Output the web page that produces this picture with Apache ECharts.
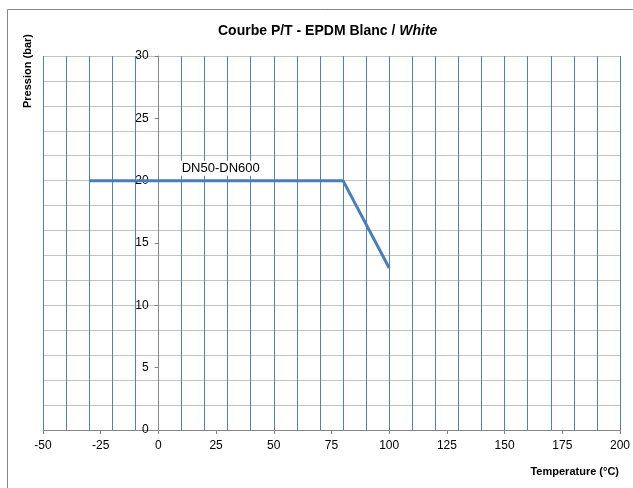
<!DOCTYPE html>
<html>
<head>
<meta charset="utf-8">
<script src="https://cdn.jsdelivr.net/npm/echarts@6/dist/echarts.min.js"></script>
<style>
html, body { margin: 0; padding: 0; background: #fff; }
#chart { width: 633px; height: 488px; }
</style>
</head>
<body>
<div id="chart"></div>
<script>
// courbe pression / temperature
const temperature = [-30, 80, 100];
const pression = [20, 20, 13];
const seriesName = 'DN50-DN600';
const labelAt = [27, 21]; // position du libellé (°C, bar)

const xMin = -50, xMax = 200;
const yMin = 0, yMax = 30;

const font = 'Liberation Sans';
const gridLeft = 43, gridRight = 12;
const plotWidth = 633 - gridLeft - gridRight;
// l'axe des pressions passe par 0 °C
const yAxisShift = -(0 - xMin) / (xMax - xMin) * plotWidth;

var myChart = echarts.init(document.getElementById('chart'));

const option = {
    backgroundColor: '#fff',
    animation: false,
    title: {
        text: '{b|Courbe P/T - EPDM Blanc / }{i|White}',
        left: 213,
        top: 19,
        textStyle: {
            rich: {
                b: { fontFamily: font, fontSize: 14, fontWeight: 'bold', color: '#000' },
                i: { fontFamily: font, fontSize: 14, fontWeight: 'bold', fontStyle: 'italic', color: '#000' }
            }
        }
    },
    grid: {
        left: gridLeft,
        right: gridRight,
        top: 56,
        bottom: 58,
        containLabel: false
    },
    xAxis: [{
        type: 'value',
        min: xMin,
        max: xMax,
        interval: 25,
        z: 3,
        axisLine: { onZero: true, lineStyle: { color: '#868686', width: 1 } },
        axisTick: { show: true, length: 4, lineStyle: { color: '#868686' } },
        axisLabel: { fontFamily: font, fontSize: 12, color: '#000', margin: 10 },
        splitLine: { show: false }
    }, {
        // grille verticale tous les 10
        type: 'value',
        min: xMin,
        max: xMax,
        interval: 10,
        position: 'bottom',
        axisLine: { show: false },
        axisTick: { show: false },
        axisLabel: { show: false },
        splitLine: { show: true, lineStyle: { color: '#4f81bd', width: 1 } }
    }],
    yAxis: [{
        type: 'value',
        min: yMin,
        max: yMax,
        interval: 5,
        z: 3,
        offset: yAxisShift,
        axisLine: { show: true, onZero: false, lineStyle: { color: '#868686', width: 1 } },
        axisTick: { show: true, length: 4, lineStyle: { color: '#868686' } },
        axisLabel: { fontFamily: font, fontSize: 12, color: '#000', margin: 10 },
        splitLine: { show: false }
    }, {
        // grille horizontale tous les 2
        type: 'value',
        min: yMin,
        max: yMax,
        interval: 2,
        axisLine: { show: false },
        axisTick: { show: false },
        axisLabel: { show: false },
        splitLine: { show: true, lineStyle: { color: '#c3c3c3', width: 1 } }
    }],
    series: [{
        name: seriesName,
        type: 'line',
        xAxisIndex: 0,
        yAxisIndex: 0,
        z: 5,
        symbol: 'none',
        lineStyle: { color: '#4a7ebb', width: 3 },
        data: temperature.map((t, i) => [t, pression[i]])
    }, {
        // libellé de la courbe
        type: 'scatter',
        xAxisIndex: 0,
        yAxisIndex: 0,
        z: 6,
        silent: true,
        symbolSize: 0,
        itemStyle: { color: '#fff', opacity: 1 },
        label: {
            show: true,
            position: 'inside',
            formatter: seriesName,
            fontFamily: font,
            fontSize: 13,
            color: '#000',
            opacity: 1,
            backgroundColor: '#fff',
            padding: [1, 2]
        },
        data: [labelAt]
    }],
    graphic: [{
        type: 'polyline',
        shape: { points: [[7.5, 488], [7.5, 9.5], [633, 9.5]] },
        style: { stroke: '#868686', lineWidth: 1, fill: null }
    }, {
        type: 'text',
        x: 22,
        y: 108,
        rotation: Math.PI / 2,
        style: {
            text: 'Pression (bar)',
            fontFamily: font,
            fontSize: 11,
            fontWeight: 'bold',
            fill: '#000'
        }
    }, {
        type: 'text',
        right: 14,
        top: 466,
        style: {
            text: 'Temperature (°C)',
            fontFamily: font,
            fontSize: 11,
            fontWeight: 'bold',
            fill: '#000'
        }
    }]
};

myChart.setOption(option);
</script>
</body>
</html>
